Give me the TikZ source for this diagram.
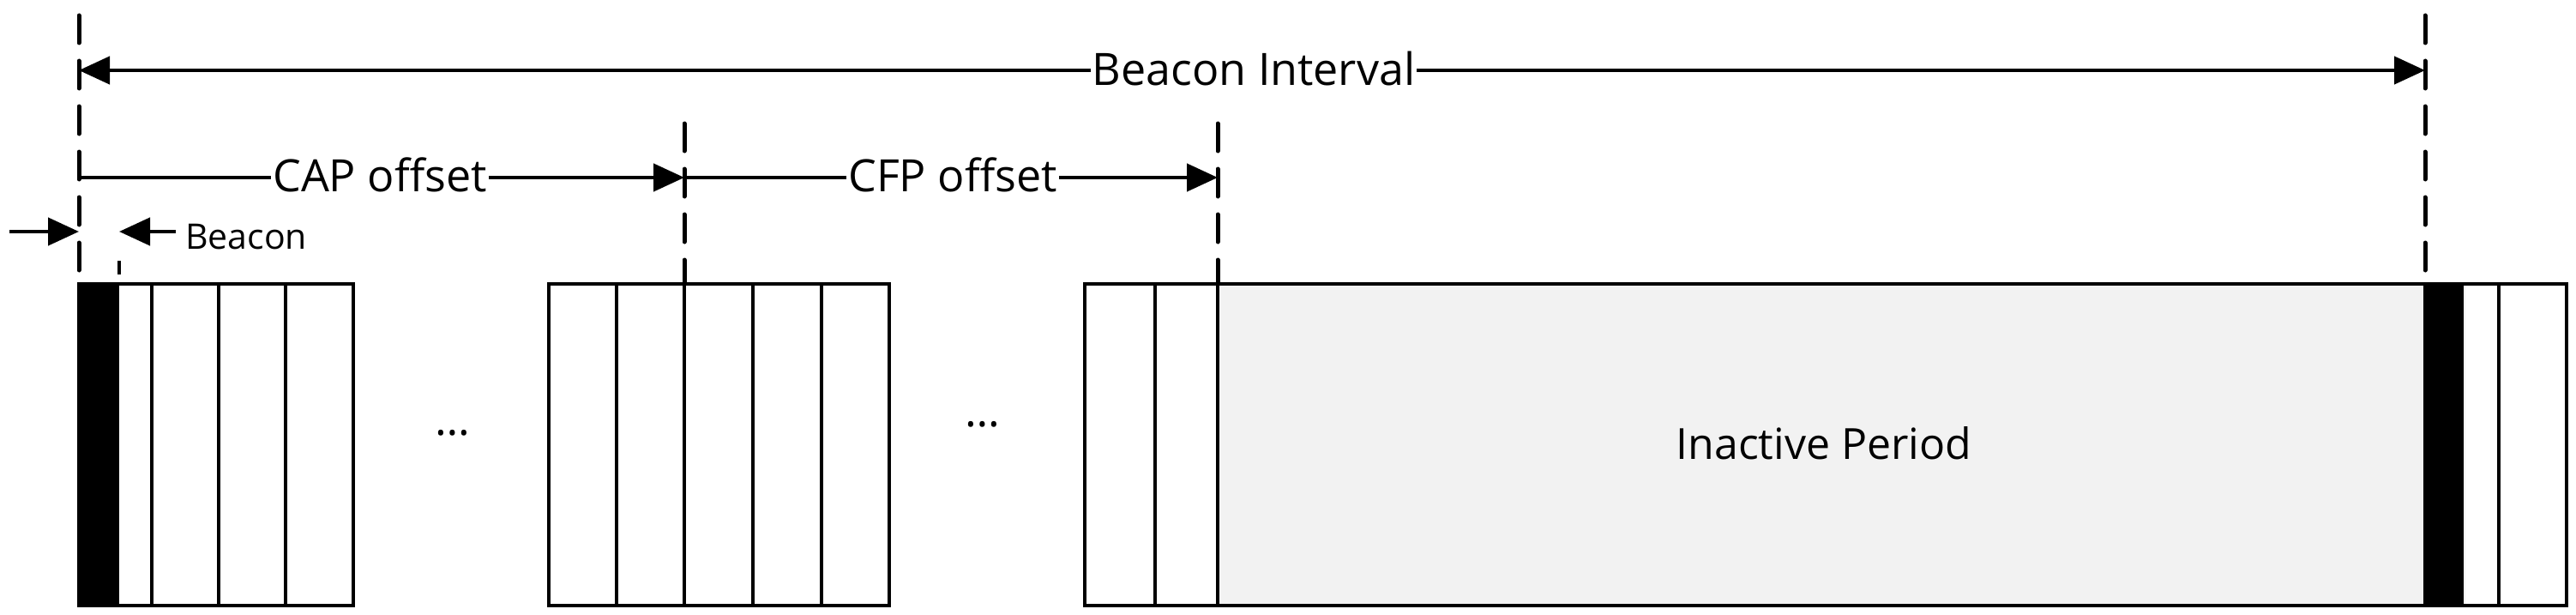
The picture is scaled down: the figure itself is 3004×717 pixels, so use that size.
\documentclass[tikz,border=0pt]{standalone}
\usepackage{fontspec}
\setmainfont{Open Sans}
\usetikzlibrary{arrows.meta}
\begin{document}
\begin{tikzpicture}[x=1pt,y=-1pt,
  dim/.style={line width=4.5pt,-{Triangle[length=36pt,width=32pt]}},
  guide/.style={line width=5pt,line cap=round,dash pattern=on 32pt off 21pt},
  slot/.style={draw,line width=4.5pt},
  lbl/.style={fill=white,inner sep=2pt,font=\fontsize{52}{60}\selectfont}]
\useasboundingbox (0,0) rectangle (3004,717);
% boxes
\draw[slot] (92,331) rectangle (412,706);
\fill (92,331) rectangle (139,706);
\foreach \x in {177,255,333} \draw[slot] (\x,331) -- (\x,706);
\draw[slot] (640,331) rectangle (1037,706);
\foreach \x in {719,798,878,958} \draw[slot] (\x,331) -- (\x,706);
\draw[slot,fill=black!5] (1265,331) rectangle (2993,706);
\fill[white] (1267,333) rectangle (1420,704);
\draw[slot] (1265,331) rectangle (1420,706);
\draw[slot] (1347,331) -- (1347,706);
\fill (2828,331) rectangle (2873,706);
\fill[white] (2875,333) rectangle (2991,704);
\draw[slot] (2914,331) -- (2914,706);
\draw[slot] (2828,331) rectangle (2993,706);
\node[font=\fontsize{52}{60}\selectfont] (dots1) at (528,505) {\dots};
\node[font=\fontsize{52}{60}\selectfont] (dots2) at (1146,495) {\dots};
\node[font=\fontsize{50}{60}\selectfont] (inact) at (2127,517) {Inactive Period};
% guides
\coordinate (g0t) at (92,18); \coordinate (g0b) at (92,331);
\coordinate (g1t) at (798,144); \coordinate (g1b) at (798,331);
\coordinate (g2t) at (1420,144); \coordinate (g2b) at (1420,331);
\coordinate (g3t) at (2828,18); \coordinate (g3b) at (2828,331);
\draw[guide] (g0t) -- (g0b);
\draw[guide] (g1t) -- (g1b);
\draw[guide] (g2t) -- (g2b);
\draw[guide] (g3t) -- (g3b);
\coordinate (bt) at (139,304); \coordinate (bb) at (139,331);
\draw[line width=4.5pt] (139,304) -- (139,320);
% beacon interval
\coordinate (bi0) at (92,82); \coordinate (bi1) at (2828,82);
\draw[dim,{Triangle[length=36pt,width=32pt]}-{Triangle[length=36pt,width=32pt]}] (bi0) -- (bi1);
\node[lbl] (bil) at (1462,80) {Beacon Interval};
% CAP / CFP
\coordinate (c0) at (92,207); \coordinate (c1) at (798,207); \coordinate (c2) at (1420,207);
\draw[dim] (c0) -- (c1);
\draw[dim] (c1) -- (c2);
\node[lbl] (capl) at (443,204) {CAP offset};
\node[lbl] (cfpl) at (1111,204) {CFP offset};
% beacon
\coordinate (ba0) at (11,270); \coordinate (ba1) at (92,270);
\coordinate (bc0) at (205,270); \coordinate (bc1) at (139,270);
\draw[dim] (ba0) -- (ba1);
\draw[dim] (bc0) -- (bc1);
\node[anchor=west,font=\fontsize{41}{48}\selectfont,inner sep=0pt] (bl) at (216,276) {Beacon};
\end{tikzpicture}
\end{document}
